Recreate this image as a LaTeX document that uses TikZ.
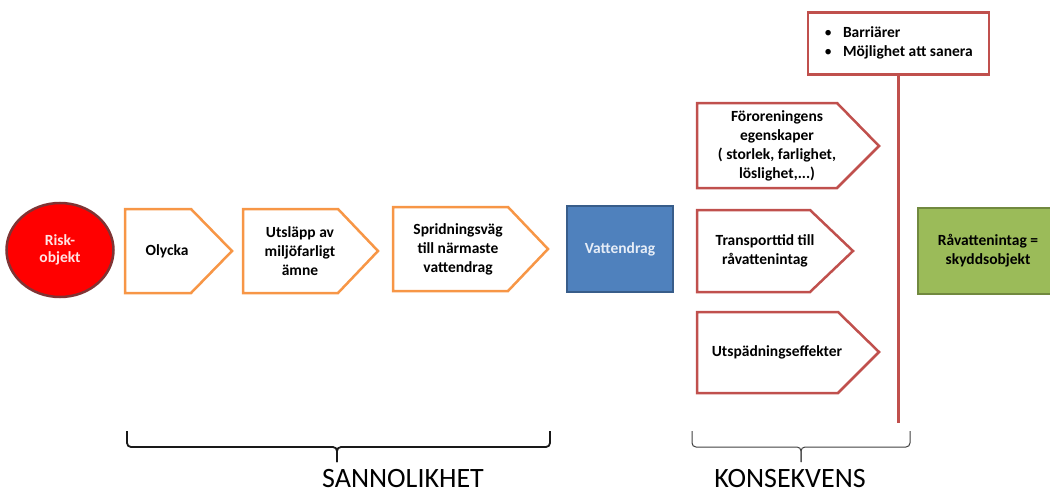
\documentclass[tikz,border=0pt]{standalone}
\usepackage{fontspec}
\setmainfont{Carlito}
\usepackage{xcolor}
\usetikzlibrary{shapes.geometric}
\definecolor{offorange}{HTML}{F79646}
\definecolor{offred}{HTML}{C0504D}
\definecolor{riskred}{HTML}{FF0000}
\definecolor{riskrim}{HTML}{7F3434}
\definecolor{riskfont}{HTML}{FFE4E4}
\definecolor{offblue}{HTML}{4F81BD}
\definecolor{offblueline}{HTML}{385D8A}
\definecolor{bluefont}{HTML}{E6EDF7}
\definecolor{offgreen}{HTML}{9BBB59}
\definecolor{offgreenline}{HTML}{71893F}
\tikzset{
  orangeline/.style={draw=offorange,line width=2.5pt,line join=miter},
  redline/.style={draw=offred,line width=2.5pt,line join=miter},
  boxtext/.style={align=center,font=\bfseries\fontsize{15.5}{19}\selectfont},
  bigtext/.style={anchor=base,inner sep=0pt,font=\fontsize{28}{30}\selectfont},
  bracket/.style={rounded corners=4pt,line width=#1},
}

\begin{document}
\begin{tikzpicture}[x=1pt,y=-1pt]
            \clip (0,0) rectangle (1050,495);
            % risk object and water course
            \node[ellipse,draw=riskrim,fill=riskred,line width=2.5pt,
                  minimum width=107,minimum height=94,inner sep=0pt,
                  text=riskfont,boxtext,
                  font=\bfseries\fontsize{15.5}{16.5}\selectfont] (risk) at (60,250) {Risk-\\objekt};
            \node[draw=offblueline,fill=offblue,line width=2pt,
                  minimum width=106,minimum height=86,
                  text=bluefont,boxtext] (vatten) at (620,249) {Vattendrag};
            \node[draw=offgreenline,fill=offgreen,line width=2pt,
                  minimum width=140,minimum height=86,
                  boxtext] (ravatten) at (988,251) {Råvattenintag =\\skyddsobjekt};
            % sannolikhet
            \draw[orangeline] (125,209) -- (191,209) -- (232,251) -- (191,293) -- (125,293) -- cycle;
            \draw[orangeline] (243,209) -- (338,209) -- (378,251) -- (338,293) -- (243,293) -- cycle;
            \draw[orangeline] (393,207) -- (508,207) -- (548,249) -- (508,291) -- (393,291) -- cycle;
            \node[boxtext] (olycka) at (167,251) {Olycka};
            \node[boxtext] (utslapp) at (300,251) {Utsläpp av\\miljöfarligt\\ämne};
            \node[boxtext] (sprid) at (458,249) {Spridningsväg\\till närmaste\\vattendrag};
            % konsekvens
            \draw[redline] (697,103) -- (837,103) -- (879,146) -- (837,188) -- (697,188) -- cycle;
            \draw[redline] (697,210) -- (810,210) -- (853,251) -- (810,292) -- (697,292) -- cycle;
            \draw[redline] (697,312) -- (838,312) -- (879,352) -- (838,393) -- (697,393) -- cycle;
            \node[boxtext] (fororen) at (777,146) {Föroreningens\\egenskaper\\( storlek, farlighet,\\löslighet,...)};
            \node[boxtext] (transport) at (765,251) {Transporttid till\\råvattenintag};
            \node[boxtext] (utspad) at (777,352) {Utspädningseffekter};
            \node[redline,fill=white,minimum width=181,minimum height=62,
                  font=\bfseries\fontsize{15.5}{19}\selectfont] (barriar) at (898.5,43.5)
                  {\begin{tabular}{@{}l@{\hspace{11pt}}l@{}}
                   \mdseries\textbullet & Barriärer\\
                   \mdseries\textbullet & Möjlighet att sanera
                   \end{tabular}};
            \coordinate (linebot) at (898.5,423);
            \draw[redline] (barriar.south) -- (linebot);
            % brackets
            \draw[bracket=1.8pt,black!90] (127,431) |- (337,447) -- (337,462);
            \draw[bracket=1.8pt,black!90] (550,431) |- (337,447) -- (337,462);
            \draw[bracket=1pt,black!75] (692,431) |- (801,447) -- (801,462);
            \draw[bracket=1pt,black!75] (910,431) |- (801,447) -- (801,462);
            \node[bigtext] (sannolikhet) at (403,487) {SANNOLIKHET};
            \node[bigtext] (konsekvens) at (790,487) {KONSEKVENS};
\end{tikzpicture}
\end{document}
